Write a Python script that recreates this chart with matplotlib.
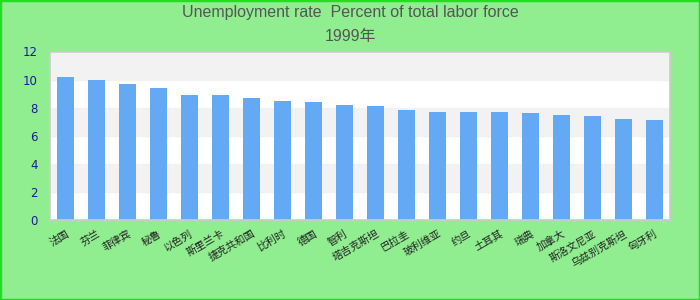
import matplotlib
matplotlib.use('Agg')
import matplotlib.pyplot as plt
from matplotlib.patches import Rectangle

# categories (country names) and 1999 unemployment rate, % of total labor force
countries = ['法国', '芬兰', '菲律宾', '秘鲁', '以色列', '斯里兰卡', '捷克共和国', '比利时', '德国', '智利',
             '塔吉克斯坦', '巴拉圭', '玻利维亚', '约旦', '土耳其', '瑞典', '加拿大', '斯洛文尼亚', '乌兹别克斯坦', '匈牙利']
rates = [10.2, 10.0, 9.7, 9.4, 8.9, 8.9, 8.7, 8.5, 8.4, 8.2,
         8.1, 7.8, 7.7, 7.7, 7.7, 7.6, 7.5, 7.4, 7.2, 7.1]
yticks = [0, 2, 4, 6, 8, 10, 12]
title1 = 'Unemployment rate  Percent of total labor force'
title2 = '1999年'

plt.rcParams['font.family'] = ['Liberation Sans', 'Noto Sans CJK SC', 'DejaVu Sans']

fig = plt.figure(figsize=(7, 3), dpi=100)
fig.patch.set_facecolor('#90ee90')
fig.patches.append(Rectangle((0, 0), 1, 1, transform=fig.transFigure, fill=False,
                             edgecolor='#22dd22', linewidth=2.5))

ax = fig.add_axes([50/700, 80/300, 620/700, 168.5/300])
ax.set_facecolor('white')
for lo in (2, 6, 10):
    ax.axhspan(lo, lo + 2, color='#f2f2f2', zorder=0)

x = range(len(countries))
ax.bar(x, rates, width=0.55, color='#63a9f4', zorder=2)

ax.set_xlim(-0.5, len(countries) - 0.5)
ax.set_ylim(0, 12)
ax.set_yticks(yticks)
ax.set_yticklabels([str(t) for t in yticks], color='#1a1a99', fontsize=8.5,
                   family=['DejaVu Sans'])
ax.set_xticks(list(x))
ax.set_xticklabels(countries, rotation=30, ha='right', rotation_mode='anchor',
                   fontsize=7.5, color='#222222', family=['Noto Sans CJK SC', 'DejaVu Sans'])
ax.tick_params(axis='both', length=0)
ax.tick_params(axis='y', pad=9)
ax.tick_params(axis='x', pad=6)
for s in ax.spines.values():
    s.set_color('#cccccc')
    s.set_linewidth(1.2)

fig.text(0.5, 1 - 13/300, title1, ha='center', va='center', fontsize=11.5, color='#555555')
fig.text(0.5, 1 - 37/300, title2, ha='center', va='center', fontsize=11.5, color='#555555')

fig.savefig('out.png', dpi=100, facecolor=fig.get_facecolor())
